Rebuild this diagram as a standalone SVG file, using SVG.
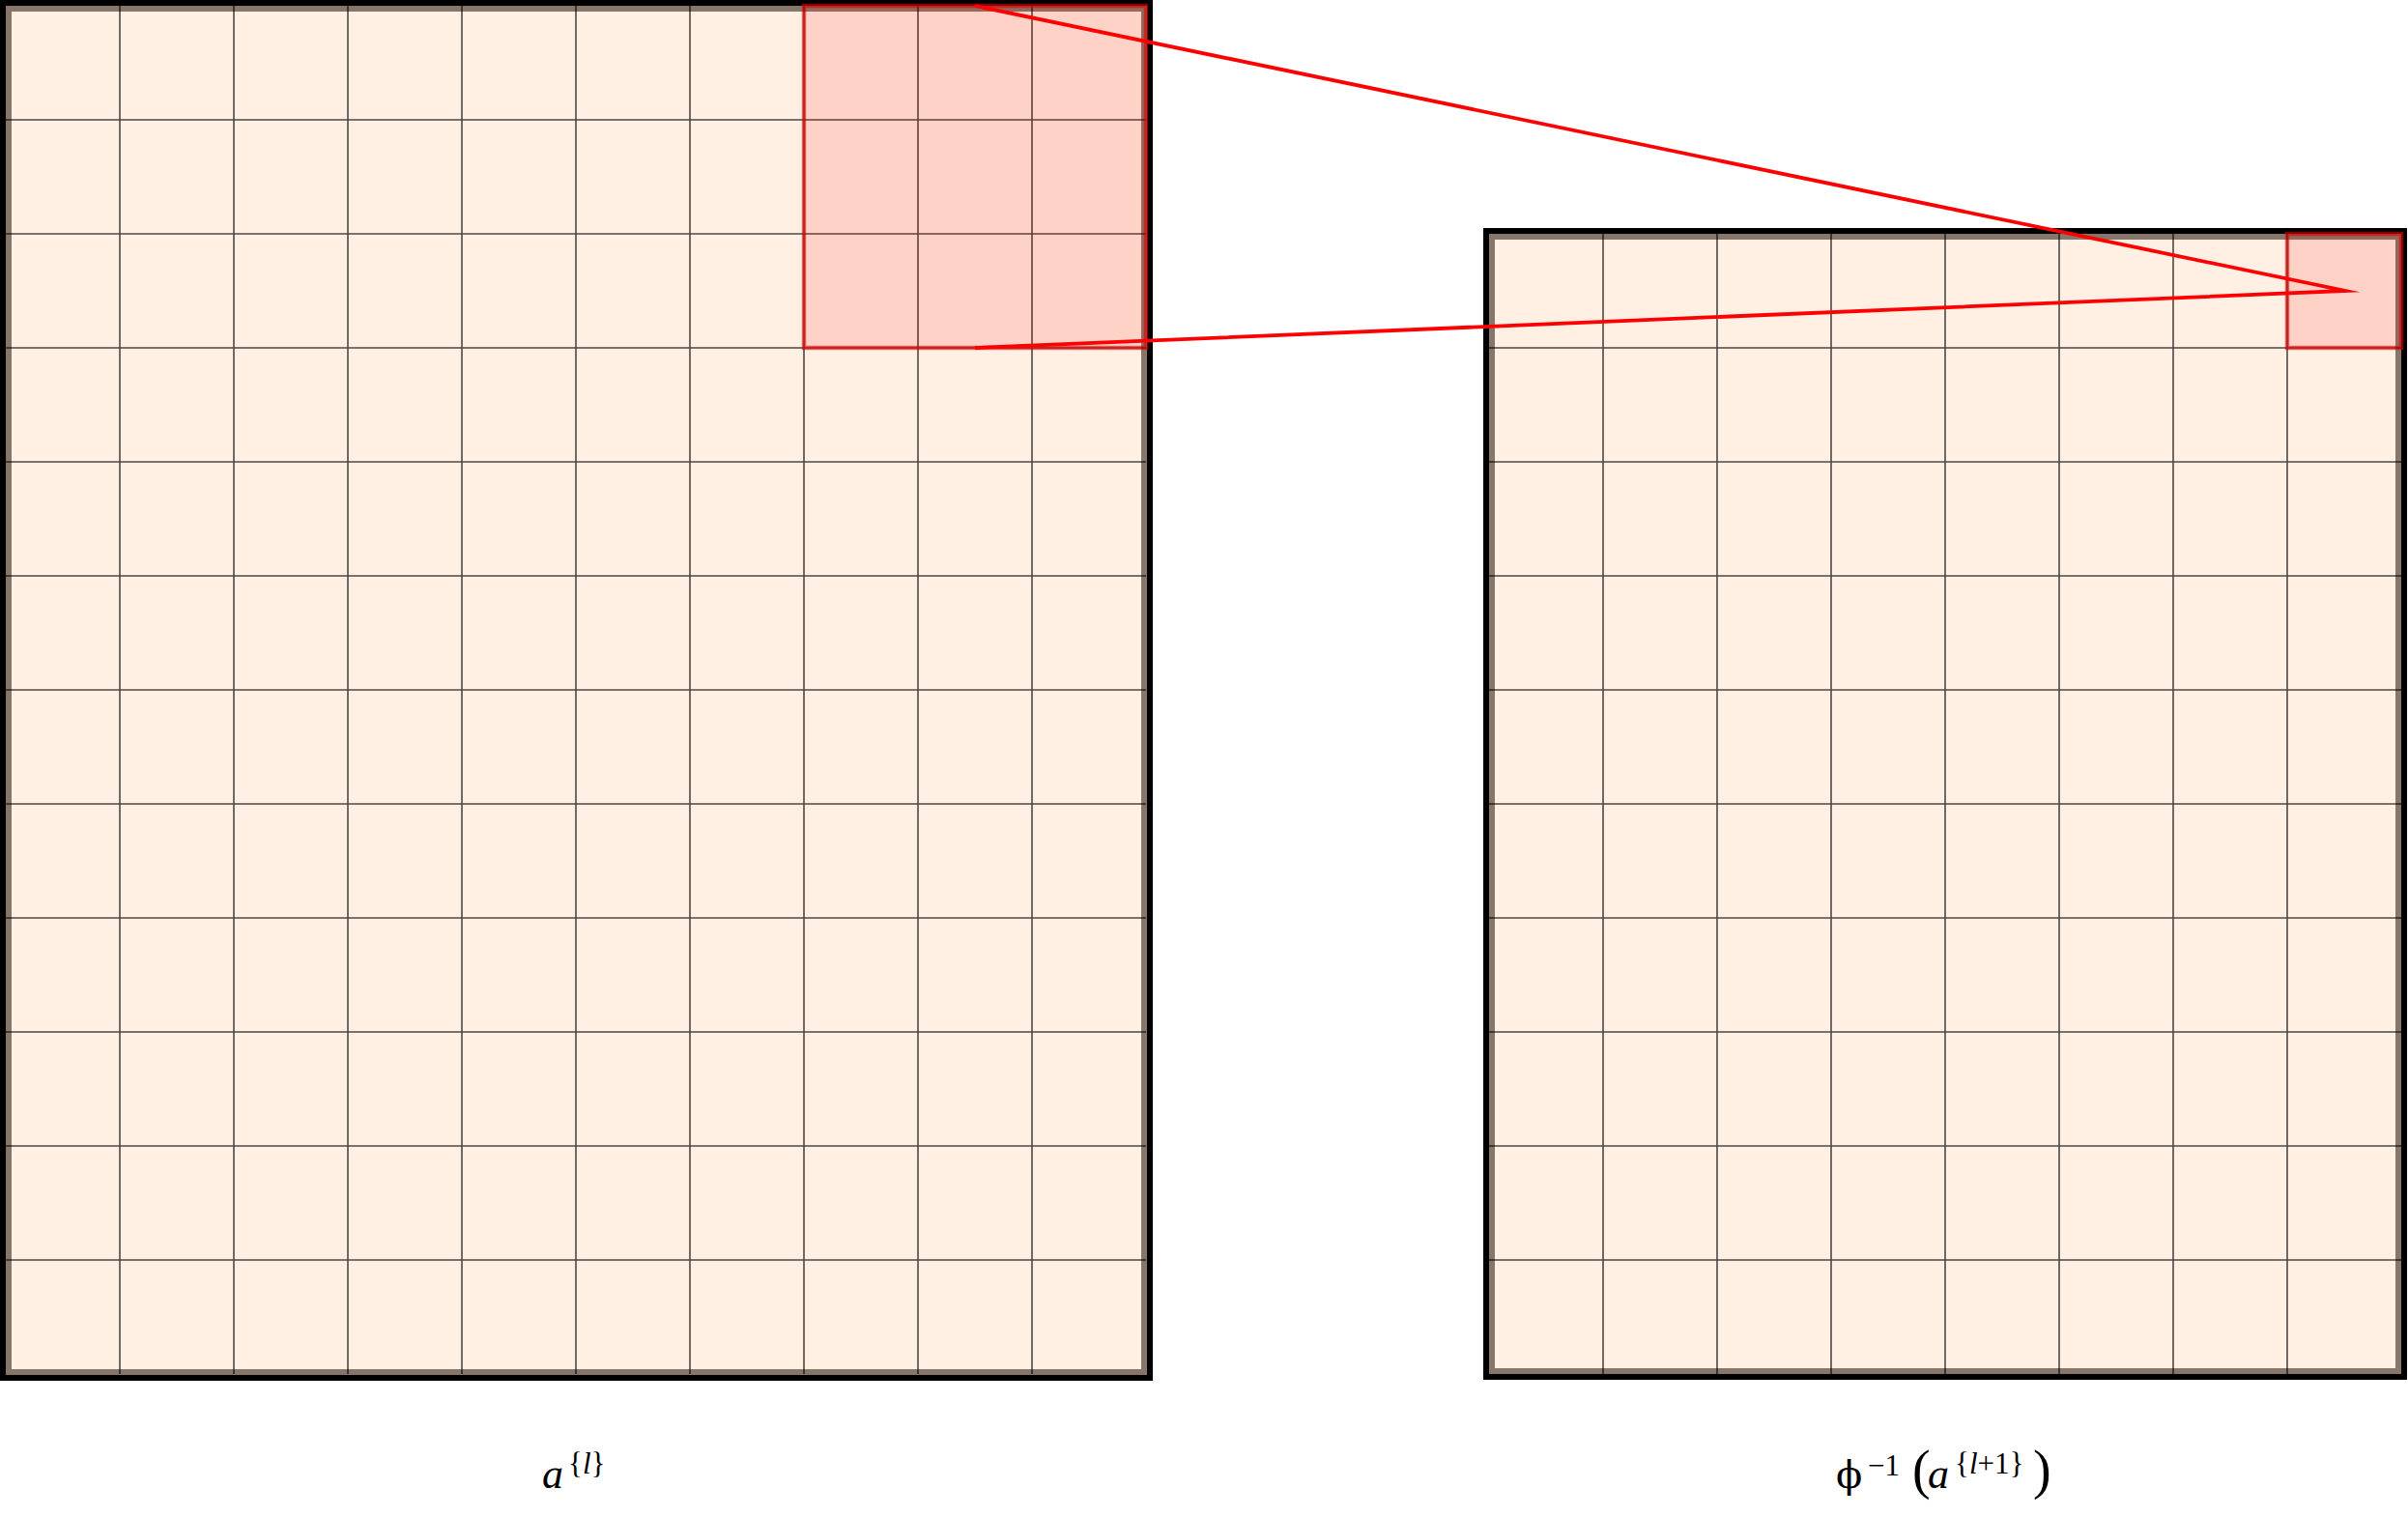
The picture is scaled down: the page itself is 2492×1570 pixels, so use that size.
<svg xmlns="http://www.w3.org/2000/svg" width="2492" height="1570" viewBox="0 0 2492 1570">
<style>
.bg{fill:#fff0e3;stroke:none}
.band{fill:none;stroke:#86776a;stroke-width:6}
.border{fill:none;stroke:#000;stroke-width:6}
.grid{stroke:#000;stroke-opacity:0.7;stroke-width:1.6;fill:none}
.hl{fill:#ff0000;fill-opacity:0.12;stroke:#e00000;stroke-opacity:0.6;stroke-width:4.5}
.conn{fill:none;stroke:#ff0000;stroke-width:3.8;stroke-linejoin:miter;stroke-miterlimit:20}
.lbl{font-family:"Liberation Serif","DejaVu Serif",serif;fill:#000}
.it{font-style:italic}
</style>
<rect width="2492" height="1570" fill="#fff"/>
<g id="grid-left">
<rect class="bg" x="6" y="6" width="1180" height="1416"/>
<rect class="band" x="9" y="9" width="1175" height="1411"/>
<path class="grid" d="M124,6V1422M242,6V1422M360,6V1422M478,6V1422M596,6V1422M714,6V1422M832,6V1422M950,6V1422M1068,6V1422M6,124H1186M6,242H1186M6,360H1186M6,478H1186M6,596H1186M6,714H1186M6,832H1186M6,950H1186M6,1068H1186M6,1186H1186M6,1304H1186"/>
<rect class="border" x="3" y="3" width="1187" height="1423"/>
<rect id="patch-left" class="hl" x="832" y="6" width="354" height="354"/>
</g>
<g id="grid-right">
<rect class="bg" x="1541" y="242" width="944" height="1180"/>
<rect class="band" x="1544" y="245" width="938" height="1174"/>
<path class="grid" d="M1659,242V1422M1777,242V1422M1895,242V1422M2013,242V1422M2131,242V1422M2249,242V1422M2367,242V1422M1541,360H2485M1541,478H2485M1541,596H2485M1541,714H2485M1541,832H2485M1541,950H2485M1541,1068H2485M1541,1186H2485M1541,1304H2485"/>
<rect class="border" x="1538" y="239" width="950" height="1186"/>
<rect id="patch-right" class="hl" x="2367" y="242" width="118" height="118"/>
</g>
<g id="connectors">
<path class="conn" d="M1009,6L2427,301L1009,360"/>
</g>
<g id="label-left">
<text class="lbl" y="1540" font-size="44"><tspan class="it" x="561">a</tspan><tspan x="588" dy="-15" font-size="31">{</tspan><tspan class="it" font-size="31">l</tspan><tspan font-size="31">}</tspan></text>
</g>
<g id="label-right">
<text class="lbl" y="1540" font-size="44"><tspan x="1900" font-family="DejaVu Serif" font-size="40">ϕ</tspan><tspan x="1933" dy="-13" font-size="31">−1</tspan><tspan x="1979" dy="13" font-size="56">(</tspan><tspan class="it" x="1995" font-size="44">a</tspan><tspan x="2023" dy="-15" font-size="31">{</tspan><tspan class="it" font-size="31">l</tspan><tspan font-size="31">+1}</tspan><tspan x="2104" dy="15" font-size="56">)</tspan></text>
</g>
</svg>
